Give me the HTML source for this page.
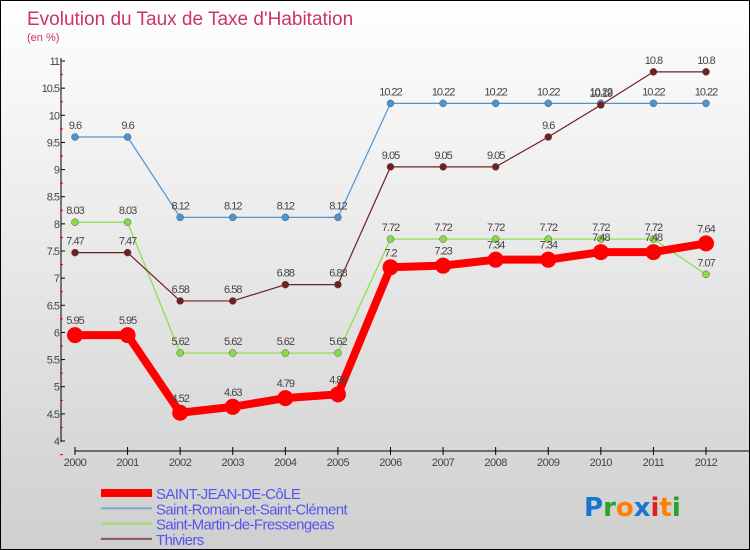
<!DOCTYPE html>
<html><head><meta charset="utf-8"><style>
body{margin:0;}
#c{position:relative;width:748px;height:548px;border:1px solid #000;background:linear-gradient(#ffffff 0%,#f0f0f0 30%,#cfcfcf 100%);overflow:hidden;font-family:"Liberation Sans",sans-serif;}
</style></head><body>
<div id="c">
<svg id="s" width="748" height="548" xmlns="http://www.w3.org/2000/svg">
<text x="26" y="24" font-size="19" fill="#cc3366">Evolution du Taux de Taxe d'Habitation</text>
<text x="26" y="40" font-size="11" fill="#cc3366">(en %)</text>
<g id="axes"></g><g id="series"></g><g id="legend"></g>
<text x="583" y="515" font-size="26" font-weight="bold" font-family="'DejaVu Sans',sans-serif"><tspan fill="#1a75cf">P</tspan><tspan fill="#2ca02c">r</tspan><tspan fill="#ff8000">o</tspan><tspan fill="#1a75cf">x</tspan><tspan fill="#e02020">i</tspan><tspan fill="#ff8000">t</tspan><tspan fill="#2ca02c">i</tspan></text>
</svg></div>
<script>
const years=[2000,2001,2002,2003,2004,2005,2006,2007,2008,2009,2010,2011,2012];
const yTicks=[4,4.5,5,5.5,6,6.5,7,7.5,8,8.5,9,9.5,10,10.5,11];
const yTickLabels=["4","4.5","5","5.5","6","6.5","7","7.5","8","8.5","9","9.5","10","10.5","11"];
const saintJean=[5.95,5.95,4.52,4.63,4.79,4.86,7.2,7.23,7.34,7.34,7.48,7.48,7.64];
const saintRomain=[9.6,9.6,8.12,8.12,8.12,8.12,10.22,10.22,10.22,10.22,10.22,10.22,10.22];
const saintMartin=[8.03,8.03,5.62,5.62,5.62,5.62,7.72,7.72,7.72,7.72,7.72,7.72,7.07];
const thiviers=[7.47,7.47,6.58,6.58,6.88,6.88,9.05,9.05,9.05,9.6,10.19,10.8,10.8];
const NS="http://www.w3.org/2000/svg";
const X=i=>74+i*(705-74)/(years.length-1);
const Y=v=>60+(11-v)*(440-60)/7;
function mk(t,a,p){const e=document.createElementNS(NS,t);for(const k in a)e.setAttribute(k,a[k]);p.appendChild(e);return e;}
const ax=document.getElementById('axes');
let l=mk('line',{x1:60,y1:57,x2:60,y2:441,stroke:'#000'},ax);


l=mk('line',{x1:74,y1:450,x2:748,y2:450,stroke:'#000'},ax);


yTicks.forEach((v,i)=>{
 const major=i%1===0&&(v*2)%1===0;
 const t=mk('line',{x1:60,y1:Y(v),x2:64,y2:Y(v),stroke:'#000'},ax);
 
 
 const r=mk('line',{x1:59,y1:Y(v)+13.6,x2:62,y2:Y(v)+13.6,stroke:'#e00'},ax);
 
 
 const tx=mk('text',{x:58,y:Y(v)+4,'font-size':11,fill:'#444','text-anchor':'end','letter-spacing':'-1'},ax);
 tx.textContent=yTickLabels[i];
 
 
});
years.forEach((y,i)=>{
 const t=mk('line',{x1:X(i),y1:446,x2:X(i),y2:454,stroke:'#000'},ax);
 
 
 const tx=mk('text',{x:X(i),y:465,'font-size':11,fill:'#444','text-anchor':'middle','letter-spacing':'-0.5'},ax);
 tx.textContent=y;
 
 
});
const sg=document.getElementById('series');
const defs=[
 {d:saintRomain,c:'#4d94d6',w:1.2,r:3.5,n:'saint-romain'},
 {d:saintMartin,c:'#88dd44',w:1.2,r:3.5,n:'saint-martin'},
 {d:thiviers,c:'#702020',w:1.2,r:3.5,n:'thiviers'},
 {d:saintJean,c:'#ff0000',w:8,r:8,n:'saint-jean'}];
defs.forEach(s=>{
 const pl=mk('polyline',{points:s.d.map((v,i)=>X(i)+','+Y(v)).join(' '),fill:'none',stroke:s.c,'stroke-width':s.w,'stroke-linejoin':'round'},sg);
 
 
 s.d.forEach((v,i)=>{
  const c=mk('circle',{cx:X(i),cy:Y(v),r:s.r,fill:s.c,stroke:s.w>2?'none':'#555','stroke-width':0.5},sg);
  
  
  const t=mk('text',{x:X(i),y:Y(v)-(s.w>2?11:8),'font-size':11,fill:'#444','text-anchor':'middle','letter-spacing':'-1'},sg);
  t.textContent=v;
  
  
 });
});
const lg=document.getElementById('legend');
const leg=[['SAINT-JEAN-DE-CôLE','#ff0000',8],['Saint-Romain-et-Saint-Clément','#7aaad0',2],['Saint-Martin-de-Fressengeas','#99dd66',2],['Thiviers','#8a5555',2]];
leg.forEach((e,i)=>{
 const y=492+i*15.3;
 const ln=mk('line',{x1:100,y1:y,x2:151,y2:y,stroke:e[1],'stroke-width':e[2]},lg);
 
 
 const t=mk('text',{x:155,y:y+6,'font-size':15,fill:'#5555ee','letter-spacing':'-0.6'},lg);
 t.textContent=e[0];
 
 
});
</script>
</body></html>
